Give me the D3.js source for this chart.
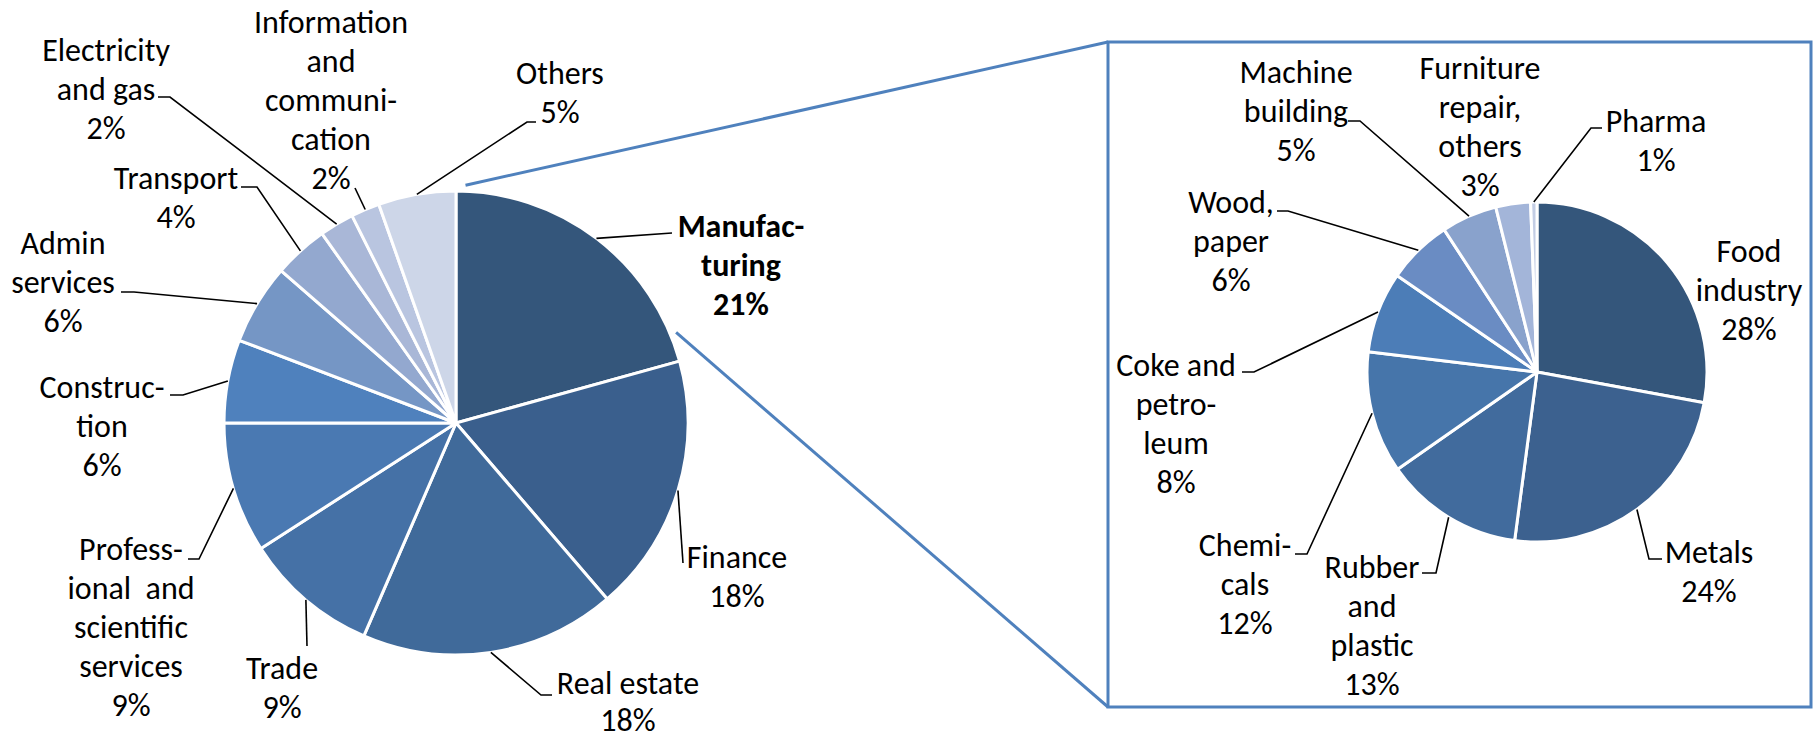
<!DOCTYPE html>
<html>
<head>
<meta charset="utf-8">
<script src="https://cdn.jsdelivr.net/npm/d3@7"></script>
<style>
  html, body { margin: 0; padding: 0; background: #ffffff; }
  svg text { font-family: Carlito, Calibri, Lato, sans-serif; font-size: 32px; fill: #000; white-space: pre; }
</style>
</head>
<body>
<svg id="chart" width="1814" height="741"></svg>
<script>
// Gross value added by sector (left pie) and the breakdown of manufacturing (right pie), % shares
const sectorNames = ["Manufacturing", "Finance", "Real estate", "Trade",
  "Professional and scientific services", "Construction", "Admin services",
  "Transport", "Electricity and gas", "Information and communication", "Others"];
const sectorShares = [20.7, 18.0, 17.8, 9.4, 9.1, 5.8, 5.6, 3.8, 2.4, 2.0, 5.4];
const sectorLabelLines = [["Manufac-", "turing"], ["Finance"], ["Real estate"], ["Trade"],
  ["Profess-", "ional  and", "scientific", "services"], ["Construc-", "tion"],
  ["Admin", "services"], ["Transport"], ["Electricity", "and gas"],
  ["Information", "and", "communi-", "cation"], ["Others"]];

const industryNames = ["Food industry", "Metals", "Rubber and plastic", "Chemicals",
  "Coke and petroleum", "Wood, paper", "Machine building", "Furniture repair, others", "Pharma"];
const industryShares = [27.9, 24.2, 13.2, 11.6, 7.7, 6.2, 5.3, 3.3, 0.6];
const industryLabelLines = [["Food", "industry"], ["Metals"], ["Rubber", "and", "plastic"],
  ["Chemi-", "cals"], ["Coke and", "petro-", "leum"], ["Wood,", "paper"],
  ["Machine", "building"], ["Furniture", "repair,", "others"], ["Pharma"]];

// Slice colours
const sectorColors = ["#34567b", "#3a5f8d", "#406a9a", "#4571a6", "#4a79b2", "#4f81bd",
  "#7596c5", "#93a8cf", "#a9b7d7", "#b9c5e0", "#cdd6e8"];
const industryColors = ["#34567b", "#3c618f", "#416b9d", "#4675aa", "#4c7db7",
  "#6a8cc3", "#89a2cc", "#a3b5d9", "#c3cde4"];

// Label placement: centre x, first line centre y, leader elbow points
const sectorLabelLayout = [
  { x: 741, y: 226, bold: true, leader: [[672, 233]] },
  { x: 737, y: 557, leader: [[683, 563]] },
  { x: 628, y: 683, leader: [[552, 695], [541, 695]] },
  { x: 282, y: 668, leader: [[307, 646]] },
  { x: 131, y: 549, leader: [[188, 559], [199, 559]] },
  { x: 102, y: 387, leader: [[170, 395], [183, 395]] },
  { x: 63, y: 243, leader: [[121, 292], [134, 292]] },
  { x: 176, y: 178, leader: [[241, 187], [257, 187]] },
  { x: 106, y: 50, leader: [[158, 97], [170, 97]] },
  { x: 331, y: 22, leader: [[355, 188]] },
  { x: 560, y: 73, leader: [[536, 122], [527, 122]] }
];
const industryLabelLayout = [
  { x: 1749, y: 251, leader: null },
  { x: 1709, y: 552, leader: [[1662, 559], [1649, 559]] },
  { x: 1372, y: 567, leader: [[1422, 573], [1436, 573]] },
  { x: 1245, y: 545, leader: [[1295, 554], [1307, 554]] },
  { x: 1176, y: 365, leader: [[1242, 372], [1254, 372]] },
  { x: 1231, y: 202, leader: [[1277, 211], [1288, 211]] },
  { x: 1296, y: 72, leader: [[1348, 121], [1360, 121]] },
  { x: 1480, y: 68, leader: null },
  { x: 1656, y: 121, leader: [[1602, 128], [1591, 128]] }
];

const svg = d3.select("#chart");
const lineHeight = 39;
const lastLineHeight = { 2: 37 };   // tighter final line for the label near the bottom edge
const accent = "#4f81bd";

const pie = d3.pie().sort(null).value(d => d);

function drawPie(cfg) {
  const g = svg.append("g").attr("transform", `translate(${cfg.cx},${cfg.cy})`);
  const arcs = pie(cfg.values);
  const arc = d3.arc().innerRadius(0).outerRadius(cfg.r);
  const edge = d3.arc().innerRadius(cfg.r).outerRadius(cfg.r);

  g.selectAll("path.slice").data(arcs).join("path")
    .attr("class", "slice")
    .attr("d", arc)
    .attr("fill", (d, i) => cfg.colors[i])
    .attr("stroke", "#ffffff")
    .attr("stroke-width", cfg.gap)
    .attr("stroke-linejoin", "round");

  // leader lines: elbow points in page coordinates, ending on the slice rim
  const line = d3.line();
  arcs.forEach((d, i) => {
    const lay = cfg.layout[i];
    if (!lay.leader) return;
    const [ex, ey] = edge.centroid(d);
    const pts = lay.leader.map(p => [p[0] - cfg.cx, p[1] - cfg.cy]).concat([[ex, ey]]);
    g.append("path")
      .attr("d", line(pts))
      .attr("fill", "none")
      .attr("stroke", "#000")
      .attr("stroke-width", 1.6);
  });

  // data labels: name lines followed by the rounded share
  arcs.forEach((d, i) => {
    const lay = cfg.layout[i];
    const lines = cfg.labelLines[i].concat([Math.round(d.data) + "%"]);
    const t = svg.append("text")
      .attr("text-anchor", "middle")
      .attr("font-weight", lay.bold ? "bold" : null);
    lines.forEach((s, k) => {
      t.append("tspan")
        .attr("x", lay.x)
        .attr("y", lay.y + k * (lay.tight || lineHeight))
        .attr("dominant-baseline", "central")
        .text(s);
    });
  });
  return arcs;
}

sectorLabelLayout[2].tight = lastLineHeight[2];

const mainPie = { cx: 456, cy: 423, r: 232, values: sectorShares, colors: sectorColors,
  labelLines: sectorLabelLines, layout: sectorLabelLayout, gap: 3 };
const subPie = { cx: 1537, cy: 372, r: 170, values: industryShares, colors: industryColors,
  labelLines: industryLabelLines, layout: industryLabelLayout, gap: 3 };

const mainArcs = drawPie(mainPie);
drawPie(subPie);

// detail box around the manufacturing breakdown
const box = { x0: 1108, y0: 42, x1: 1811, y1: 707 };
svg.append("rect")
  .attr("x", box.x0).attr("y", box.y0)
  .attr("width", box.x1 - box.x0).attr("height", box.y1 - box.y0)
  .attr("fill", "none").attr("stroke", accent).attr("stroke-width", 3);

// connectors from the manufacturing slice to the box corners
const m = mainArcs[0];
const rc = mainPie.r + 6;
const a0 = m.startAngle + 0.04, a1 = m.endAngle - 0.12;
const p0 = [mainPie.cx + rc * Math.sin(a0), mainPie.cy - rc * Math.cos(a0)];
const p1 = [mainPie.cx + rc * Math.sin(a1), mainPie.cy - rc * Math.cos(a1)];
svg.append("line").attr("x1", p0[0]).attr("y1", p0[1]).attr("x2", box.x0).attr("y2", box.y0)
  .attr("stroke", accent).attr("stroke-width", 3);
svg.append("line").attr("x1", p1[0]).attr("y1", p1[1]).attr("x2", box.x0).attr("y2", box.y1)
  .attr("stroke", accent).attr("stroke-width", 3);
</script>
</body>
</html>
